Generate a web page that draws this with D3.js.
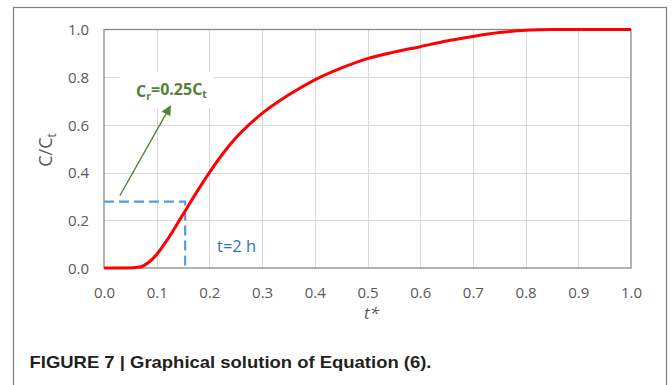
<!DOCTYPE html>
<html>
<head>
<meta charset="utf-8">
<title>Graphical solution</title>
<style>
  body { margin: 0; background: #fff; }
  svg text { font-family: "Open Sans", "Liberation Sans", Arial, sans-serif; }
  .grid line { stroke: #d9d9d9; stroke-width: 1; shape-rendering: crispEdges; }
</style>
</head>
<body>
<svg width="672" height="385"></svg>
<script src="https://d3js.org/d3.v7.min.js"></script>
<script>
// data
var tStar  = [0, 0.04, 0.055, 0.07, 0.085, 0.1, 0.12, 0.15, 0.175, 0.2, 0.225, 0.25, 0.275, 0.3, 0.35, 0.4, 0.45, 0.5, 0.55, 0.6, 0.65, 0.7, 0.75, 0.8, 0.85, 0.9, 1.0];
var cRatio = [0, 0, 0.001, 0.005, 0.024, 0.057, 0.118, 0.225, 0.315, 0.40, 0.478, 0.545, 0.600, 0.648, 0.725, 0.789, 0.838, 0.878, 0.905, 0.928, 0.952, 0.971, 0.987, 0.997, 1.0, 1.0, 1.0];
var xTicks = [0, 0.1, 0.2, 0.3, 0.4, 0.5, 0.6, 0.7, 0.8, 0.9, 1.0];
var yTicks = [0, 0.2, 0.4, 0.6, 0.8, 1.0];
// annotation points
var guideT = [0, 0.154, 0.154];
var guideC = [0.278, 0.278, 0];
var arrowT = [0.030, 0.126];
var arrowC = [0.303, 0.679];

var svg = d3.select("svg");
var x = d3.scaleLinear().domain([0, 1]).range([104, 631]);
var y = d3.scaleLinear().domain([0, 1]).range([268, 29.5]);

// outer frame of the figure
svg.append("rect")
  .attr("x", 13.5).attr("y", 7.5)
  .attr("width", 653).attr("height", 400)
  .attr("fill", "none").attr("stroke", "#7f7f7f").attr("stroke-width", 1.2);

// gridlines
var grid = svg.append("g").attr("class", "grid");
grid.selectAll(".gx").data(xTicks.slice(1, -1)).enter().append("line")
  .attr("x1", function(d) { return Math.round(x(d)) + 0.5; })
  .attr("x2", function(d) { return Math.round(x(d)) + 0.5; })
  .attr("y1", y(0)).attr("y2", y(1));
grid.selectAll(".gy").data(yTicks.slice(1, -1)).enter().append("line")
  .attr("y1", function(d) { return Math.round(y(d)) + 0.5; })
  .attr("y2", function(d) { return Math.round(y(d)) + 0.5; })
  .attr("x1", x(0)).attr("x2", x(1));

// plot area border
svg.append("rect")
  .attr("x", x(0)).attr("y", y(1))
  .attr("width", x(1) - x(0)).attr("height", y(0) - y(1))
  .attr("fill", "none").attr("stroke", "#898989").attr("stroke-width", 1.3);

// white text boxes (they hide the gridlines behind the labels)
svg.append("rect").attr("x", 119).attr("y", 72).attr("width", 95).attr("height", 36).attr("fill", "#fff");
svg.append("rect").attr("x", 210).attr("y", 222).attr("width", 51).attr("height", 44).attr("fill", "#fff");

// axes
var xAxis = d3.axisBottom(x).tickValues(xTicks).tickFormat(d3.format(".1f")).tickSize(0).tickPadding(0);
var yAxis = d3.axisLeft(y).tickValues(yTicks).tickFormat(d3.format(".1f")).tickSize(0).tickPadding(0);

var gx = svg.append("g").attr("transform", "translate(0," + (y(0) + 24.5) + ")").call(xAxis);
var gy = svg.append("g").attr("transform", "translate(" + (x(0) - 15) + ",0)").call(yAxis);
[gx, gy].forEach(function(g) {
  g.attr("font-size", null).attr("font-family", null);
  g.select(".domain").remove();
  g.selectAll("text")
    .attr("dy", "0.35em").attr("y", null)
    .attr("fill", "#595959")
    .style("font-size", "15px")
    .style("font-family", "'Open Sans', 'Liberation Sans', Arial, sans-serif");
});

// axis titles
svg.append("text")
  .attr("x", 371.5).attr("y", 313).attr("dy", "0.35em")
  .attr("text-anchor", "middle")
  .attr("fill", "#595959").attr("font-size", 17).attr("font-style", "italic")
  .text("t*");

var yl = svg.append("text")
  .attr("transform", "translate(46,150) rotate(-90)")
  .attr("dy", "0.35em")
  .attr("text-anchor", "middle")
  .attr("fill", "#595959").attr("font-size", 18);
yl.append("tspan").text("C/C");
yl.append("tspan").attr("font-size", 12).attr("dy", "0.3em").text("t");

// blue guide lines
var guideLine = d3.line()
  .x(function(d, i) { return x(guideT[i]); })
  .y(function(d, i) { return y(guideC[i]); });
svg.append("path")
  .attr("d", guideLine(guideT))
  .attr("fill", "none").attr("stroke", "#5b9bd5").attr("stroke-width", 2.2)
  .attr("stroke-dasharray", "10,5");

// the curve
var curve = d3.line()
  .x(function(d, i) { return x(tStar[i]); })
  .y(function(d, i) { return y(cRatio[i]); })
  .curve(d3.curveMonotoneX);
svg.append("path")
  .attr("d", curve(tStar))
  .attr("fill", "none").attr("stroke", "#ff0000").attr("stroke-width", 3)
  .attr("stroke-linejoin", "round");

// green arrow
svg.append("defs").append("marker")
  .attr("id", "arr").attr("viewBox", "0 0 10 10")
  .attr("refX", 9).attr("refY", 5)
  .attr("markerWidth", 10).attr("markerHeight", 10)
  .attr("markerUnits", "userSpaceOnUse")
  .attr("orient", "auto")
  .append("path").attr("d", "M0,0 L10,5 L0,10 Z").attr("fill", "#548235");
svg.append("line")
  .attr("x1", x(arrowT[0])).attr("y1", y(arrowC[0]))
  .attr("x2", x(arrowT[1])).attr("y2", y(arrowC[1]))
  .attr("stroke", "#548235").attr("stroke-width", 1.4)
  .attr("marker-end", "url(#arr)");

// annotation labels
var cr = svg.append("text")
  .attr("x", 136).attr("y", 91).attr("dy", "0.35em")
  .attr("fill", "#548235").attr("font-size", 16).attr("font-weight", "bold");
cr.append("tspan").text("C");
cr.append("tspan").attr("font-size", 10.5).attr("dy", "0.3em").text("r");
cr.append("tspan").attr("dy", "-0.3em").text("=0.25C");
cr.append("tspan").attr("font-size", 10.5).attr("dy", "0.3em").text("t");

svg.append("text")
  .attr("x", 217).attr("y", 246).attr("dy", "0.35em")
  .attr("fill", "#2e75b6").attr("font-size", 16.5)
  .text("t=2 h");

// caption
svg.append("text")
  .attr("x", 29.5).attr("y", 362).attr("dy", "0.35em")
  .attr("fill", "#231f20").attr("font-size", 17).attr("font-weight", "bold")
  .style("font-family", "'Liberation Sans Narrow', 'Liberation Sans', Arial, sans-serif")
  .attr("textLength", 402).attr("lengthAdjust", "spacingAndGlyphs")
  .text("FIGURE 7 | Graphical solution of Equation (6).");
</script>
</body>
</html>
